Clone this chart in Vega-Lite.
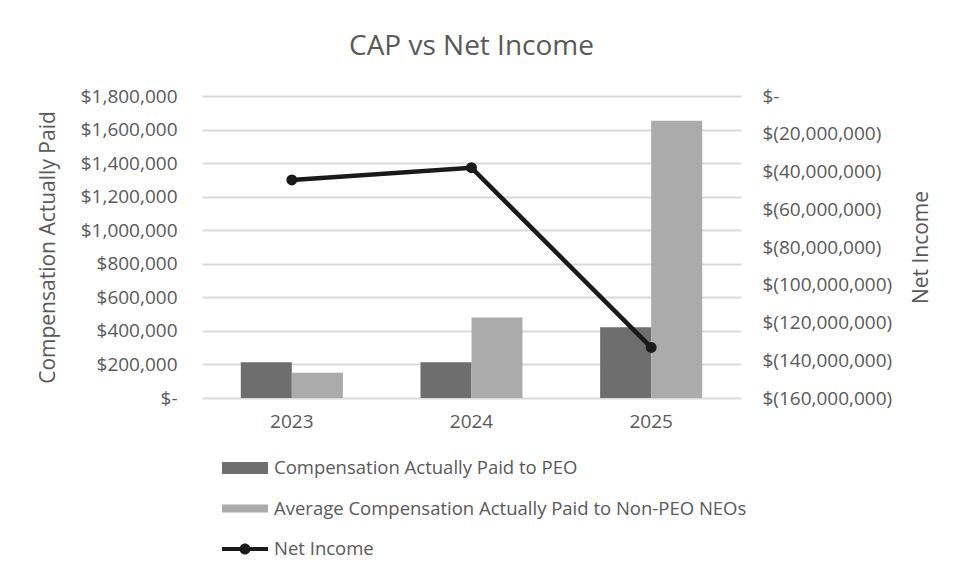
{
  "$schema": "https://vega.github.io/schema/vega-lite/v6.json",
  "width": 539,
  "height": 302,
  "autosize": {"type": "none"},
  "padding": {"left": 202, "top": 96, "right": 213, "bottom": 182},
  "background": "white",
  "title": {
    "text": "CAP vs Net Income",
    "font": "Open Sans",
    "fontSize": 28,
    "fontWeight": "normal",
    "color": "#595959",
    "anchor": "middle",
    "offset": 26
  },
  "config": {
    "font": "Open Sans",
    "view": {"stroke": null},
    "axis": {
      "labelFont": "Open Sans",
      "labelColor": "#595959",
      "labelFontSize": 19,
      "titleFont": "Open Sans",
      "titleColor": "#595959",
      "titleFontSize": 21,
      "titleFontWeight": "normal",
      "domain": false,
      "ticks": false,
      "tickSize": 0
    }
  },
  "datasets": {
    "comp": [
      {"year": "2023", "series": "Compensation Actually Paid to PEO", "value": 213000},
      {"year": "2023", "series": "Average Compensation Actually Paid to Non-PEO NEOs", "value": 150000},
      {"year": "2024", "series": "Compensation Actually Paid to PEO", "value": 213000},
      {"year": "2024", "series": "Average Compensation Actually Paid to Non-PEO NEOs", "value": 480000},
      {"year": "2025", "series": "Compensation Actually Paid to PEO", "value": 421000},
      {"year": "2025", "series": "Average Compensation Actually Paid to Non-PEO NEOs", "value": 1652000}
    ],
    "ni": [
      {"year": "2023", "series": "Net Income", "value": -44500000},
      {"year": "2024", "series": "Net Income", "value": -38000000},
      {"year": "2025", "series": "Net Income", "value": -133200000}
    ]
  },
  "layer": [
    {
      "data": {"name": "comp"},
      "mark": {"type": "bar"},
      "encoding": {
        "x": {
          "field": "year",
          "type": "nominal",
          "scale": {"paddingInner": 0.432, "paddingOuter": 0.216},
          "axis": {"title": null, "labelAngle": 0, "labelPadding": 14, "grid": false}
        },
        "xOffset": {
          "field": "series",
          "type": "nominal",
          "sort": ["Compensation Actually Paid to PEO", "Average Compensation Actually Paid to Non-PEO NEOs"],
          "scale": {"paddingInner": 0, "paddingOuter": 0}
        },
        "y": {
          "field": "value",
          "type": "quantitative",
          "scale": {"domain": [0, 1800000], "nice": false},
          "axis": {
            "title": "Compensation Actually Paid",
            "values": [0, 200000, 400000, 600000, 800000, 1000000, 1200000, 1400000, 1600000, 1800000],
            "labelExpr": "datum.value == 0 ? '$-\u00a0\u00a0' : '$' + format(datum.value, ',')",
            "labelPadding": 25,
            "titlePadding": 22,
            "grid": true,
            "gridColor": "#d9d9d9",
            "gridWidth": 2
          }
        },
        "color": {
          "field": "series",
          "type": "nominal",
          "scale": {
            "domain": ["Compensation Actually Paid to PEO", "Average Compensation Actually Paid to Non-PEO NEOs", "Net Income"],
            "range": ["#6e6e6e", "#ababab", "#1a1a1a"]
          },
          "legend": {
            "title": null,
            "orient": "none",
            "legendX": 20,
            "legendY": 349,
            "direction": "vertical",
            "padding": 0,
            "labelFont": "Open Sans",
            "labelFontSize": 18.5,
            "labelColor": "#595959",
            "labelOffset": 6,
            "labelLimit": 600,
            "symbolSize": 2116,
            "rowPadding": 7.5,
            "encode": {
              "symbols": {
                "update": {
                  "shape": [
                    {"test": "datum.value === 'Net Income'", "value": "M-1,-0.09H1V0.09H-1Z M-0.24,0A0.24,0.24 0 1,1 0.24,0A0.24,0.24 0 1,1 -0.24,0Z"},
                    {"test": "datum.value === 'Average Compensation Actually Paid to Non-PEO NEOs'", "value": "M-1,-0.17H1V0.17H-1Z"},
                    {"value": "M-1,-0.26H1V0.26H-1Z"}
                  ],
                  "fill": [
                    {"test": "datum.value === 'Net Income'", "value": "#1a1a1a"},
                    {"test": "datum.value === 'Average Compensation Actually Paid to Non-PEO NEOs'", "value": "#ababab"},
                    {"value": "#6e6e6e"}
                  ],
                  "stroke": {"value": "transparent"},
                  "strokeWidth": {"value": 0},
                  "opacity": {"value": 1},
                  "size": {"value": 2116}
                }
              }
            }
          }
        }
      }
    },
    {
      "data": {"name": "ni"},
      "mark": {"type": "line", "strokeWidth": 4.5, "point": {"size": 120, "filled": true, "opacity": 1}},
      "encoding": {
        "x": {"field": "year", "type": "nominal"},
        "y": {
          "field": "value",
          "type": "quantitative",
          "scale": {"domain": [-160000000, 0], "nice": false},
          "axis": {
            "orient": "right",
            "title": "Net Income",
            "titleAngle": 270,
            "values": [0, -20000000, -40000000, -60000000, -80000000, -100000000, -120000000, -140000000, -160000000],
            "labelExpr": "datum.value == 0 ? '$-' : '$(' + format(-datum.value, ',') + ')'",
            "labelPadding": 21,
            "titlePadding": 40,
            "grid": false
          }
        },
        "color": {"field": "series", "type": "nominal"}
      }
    }
  ],
  "resolve": {"scale": {"y": "independent"}}
}
